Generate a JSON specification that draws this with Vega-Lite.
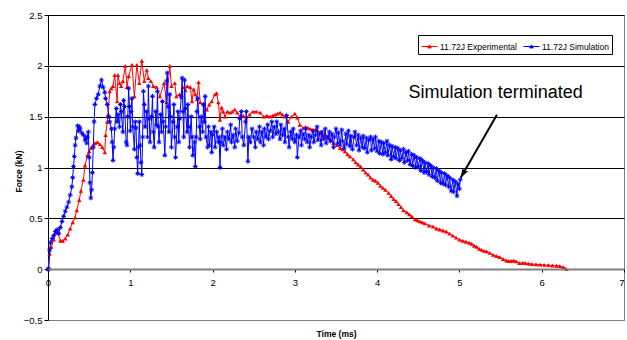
{
  "$schema": "https://vega.github.io/schema/vega-lite/v6.json",
  "width": 576,
  "height": 305,
  "autosize": "none",
  "padding": {"left": 48, "top": 15, "right": 3, "bottom": 20},
  "background": "white",
  "config": {
    "font": "Liberation Sans",
    "view": {"stroke": "#808080", "strokeWidth": 1},
    "axis": {"labelFont": "Liberation Sans", "labelColor": "#000000", "titleFont": "Liberation Sans", "titleColor": "#000000"}
  },
  "datasets": {
    "exp": [
      {"t":0,"f":0},{"t":0.02,"f":0.15},{"t":0.04,"f":0.22},{"t":0.07,"f":0.29},{"t":0.09,"f":0.36},{"t":0.12,"f":0.36},{"t":0.15,"f":0.28},{"t":0.18,"f":0.28},{"t":0.21,"f":0.30},{"t":0.24,"f":0.34},{"t":0.27,"f":0.40},{"t":0.30,"f":0.46},{"t":0.33,"f":0.51},{"t":0.35,"f":0.58},{"t":0.38,"f":0.68},{"t":0.40,"f":0.77},{"t":0.43,"f":0.88},{"t":0.45,"f":1.02},{"t":0.48,"f":1.12},{"t":0.50,"f":1.16},{"t":0.52,"f":1.19},{"t":0.55,"f":1.22},{"t":0.57,"f":1.24},{"t":0.60,"f":1.25},{"t":0.63,"f":1.23},{"t":0.66,"f":1.20},{"t":0.69,"f":1.15},{"t":0.70,"f":1.32},{"t":0.72,"f":1.45},{"t":0.73,"f":1.52},{"t":0.75,"f":1.75},{"t":0.77,"f":1.78},{"t":0.79,"f":1.80},{"t":0.81,"f":1.91},{"t":0.84,"f":1.65},{"t":0.85,"f":1.91},{"t":0.87,"f":1.83},{"t":0.89,"f":1.80},{"t":0.91,"f":1.85},{"t":0.94,"f":2.00},{"t":0.96,"f":1.79},{"t":0.98,"f":1.90},{"t":1.02,"f":2.01},{"t":1.05,"f":1.70},{"t":1.08,"f":2.01},{"t":1.11,"f":1.83},{"t":1.14,"f":2.05},{"t":1.17,"f":1.85},{"t":1.20,"f":1.96},{"t":1.22,"f":1.88},{"t":1.25,"f":1.85},{"t":1.28,"f":1.80},{"t":1.32,"f":1.79},{"t":1.36,"f":1.70},{"t":1.41,"f":1.83},{"t":1.44,"f":1.64},{"t":1.48,"f":2.00},{"t":1.50,"f":1.80},{"t":1.54,"f":1.83},{"t":1.56,"f":1.70},{"t":1.60,"f":1.72},{"t":1.62,"f":1.69},{"t":1.64,"f":1.79},{"t":1.67,"f":1.76},{"t":1.69,"f":1.80},{"t":1.73,"f":1.79},{"t":1.75,"f":1.65},{"t":1.77,"f":1.77},{"t":1.79,"f":1.72},{"t":1.81,"f":1.67},{"t":1.83,"f":1.84},{"t":1.85,"f":1.64},{"t":1.89,"f":1.62},{"t":1.93,"f":1.57},{"t":1.96,"f":1.62},{"t":1.99,"f":1.65},{"t":2.03,"f":1.72},{"t":2.05,"f":1.73},{"t":2.07,"f":1.64},{"t":2.09,"f":1.47},{"t":2.11,"f":1.59},{"t":2.13,"f":1.55},{"t":2.15,"f":1.50},{"t":2.18,"f":1.55},{"t":2.21,"f":1.54},{"t":2.24,"f":1.55},{"t":2.27,"f":1.57},{"t":2.30,"f":1.54},{"t":2.33,"f":1.50},{"t":2.37,"f":1.51},{"t":2.41,"f":1.49},{"t":2.45,"f":1.52},{"t":2.49,"f":1.55},{"t":2.53,"f":1.55},{"t":2.58,"f":1.54},{"t":2.62,"f":1.50},{"t":2.66,"f":1.51},{"t":2.70,"f":1.50},{"t":2.73,"f":1.51},{"t":2.76,"f":1.52},{"t":2.79,"f":1.53},{"t":2.82,"f":1.54},{"t":2.85,"f":1.52},{"t":2.88,"f":1.50},{"t":2.92,"f":1.45},{"t":2.96,"f":1.50},{"t":3.00,"f":1.53},{"t":3.03,"f":1.49},{"t":3.06,"f":1.42},{"t":3.10,"f":1.39},{"t":3.13,"f":1.40},{"t":3.16,"f":1.39},{"t":3.19,"f":1.38},{"t":3.22,"f":1.37},{"t":3.25,"f":1.37},{"t":3.28,"f":1.36},{"t":3.31,"f":1.34},{"t":3.34,"f":1.32},{"t":3.38,"f":1.31},{"t":3.41,"f":1.29},{"t":3.44,"f":1.27},{"t":3.47,"f":1.24},{"t":3.51,"f":1.22},{"t":3.55,"f":1.19},{"t":3.58,"f":1.18},{"t":3.61,"f":1.16},{"t":3.64,"f":1.13},{"t":3.67,"f":1.11},{"t":3.71,"f":1.08},{"t":3.74,"f":1.05},{"t":3.77,"f":1.03},{"t":3.80,"f":1.01},{"t":3.83,"f":0.98},{"t":3.86,"f":0.95},{"t":3.89,"f":0.93},{"t":3.92,"f":0.90},{"t":3.95,"f":0.88},{"t":3.98,"f":0.87},{"t":4.01,"f":0.85},{"t":4.04,"f":0.82},{"t":4.07,"f":0.80},{"t":4.10,"f":0.78},{"t":4.14,"f":0.75},{"t":4.17,"f":0.72},{"t":4.20,"f":0.69},{"t":4.23,"f":0.67},{"t":4.26,"f":0.64},{"t":4.29,"f":0.61},{"t":4.32,"f":0.58},{"t":4.36,"f":0.56},{"t":4.39,"f":0.54},{"t":4.42,"f":0.52},{"t":4.46,"f":0.49},{"t":4.49,"f":0.48},{"t":4.52,"f":0.47},{"t":4.55,"f":0.46},{"t":4.58,"f":0.45},{"t":4.63,"f":0.43},{"t":4.68,"f":0.42},{"t":4.72,"f":0.40},{"t":4.76,"f":0.39},{"t":4.80,"f":0.38},{"t":4.84,"f":0.37},{"t":4.88,"f":0.35},{"t":4.92,"f":0.33},{"t":4.96,"f":0.31},{"t":5.00,"f":0.29},{"t":5.04,"f":0.28},{"t":5.08,"f":0.27},{"t":5.12,"f":0.26},{"t":5.15,"f":0.25},{"t":5.18,"f":0.23},{"t":5.21,"f":0.22},{"t":5.24,"f":0.20},{"t":5.27,"f":0.19},{"t":5.30,"f":0.18},{"t":5.33,"f":0.175},{"t":5.37,"f":0.16},{"t":5.41,"f":0.14},{"t":5.45,"f":0.13},{"t":5.49,"f":0.12},{"t":5.53,"f":0.10},{"t":5.57,"f":0.085},{"t":5.60,"f":0.08},{"t":5.63,"f":0.08},{"t":5.66,"f":0.085},{"t":5.69,"f":0.077},{"t":5.73,"f":0.06},{"t":5.77,"f":0.062},{"t":5.80,"f":0.06},{"t":5.84,"f":0.055},{"t":5.88,"f":0.05},{"t":5.93,"f":0.048},{"t":5.98,"f":0.045},{"t":6.03,"f":0.042},{"t":6.08,"f":0.04},{"t":6.13,"f":0.036},{"t":6.18,"f":0.034},{"t":6.22,"f":0.03},{"t":6.26,"f":0.02},{"t":6.28,"f":0.01},{"t":6.30,"f":0.0}
    ],
    "sim": [
      {"t":0.00,"f":0.00},{"t":0.01,"f":0.00},{"t":0.02,"f":0.19},{"t":0.03,"f":0.26},{"t":0.05,"f":0.30},{"t":0.07,"f":0.33},{"t":0.09,"f":0.37},{"t":0.11,"f":0.39},{"t":0.13,"f":0.35},{"t":0.15,"f":0.41},{"t":0.17,"f":0.47},{"t":0.19,"f":0.52},{"t":0.21,"f":0.57},{"t":0.23,"f":0.61},{"t":0.25,"f":0.66},{"t":0.27,"f":0.73},{"t":0.29,"f":0.81},{"t":0.30,"f":0.90},{"t":0.31,"f":1.01},{"t":0.32,"f":1.11},{"t":0.33,"f":1.22},{"t":0.34,"f":1.29},{"t":0.36,"f":1.41},{"t":0.37,"f":1.36},{"t":0.38,"f":1.40},{"t":0.39,"f":1.38},{"t":0.41,"f":1.34},{"t":0.43,"f":1.32},{"t":0.45,"f":1.27},{"t":0.46,"f":1.30},{"t":0.47,"f":1.24},{"t":0.48,"f":1.30},{"t":0.49,"f":1.35},{"t":0.50,"f":1.10},{"t":0.51,"f":0.85},{"t":0.52,"f":0.70},{"t":0.53,"f":0.78},{"t":0.54,"f":0.95},{"t":0.55,"f":1.20},{"t":0.56,"f":1.45},{"t":0.57,"f":1.62},{"t":0.59,"f":1.68},{"t":0.61,"f":1.72},{"t":0.63,"f":1.80},{"t":0.65,"f":1.86},{"t":0.67,"f":1.79},{"t":0.69,"f":1.74},{"t":0.70,"f":1.68},{"t":0.72,"f":1.62},{"t":0.74,"f":1.50},{"t":0.75,"f":1.45},{"t":0.77,"f":1.38},{"t":0.78,"f":1.25},{"t":0.79,"f":1.07},{"t":0.80,"f":1.20},{"t":0.81,"f":1.38},{"t":0.83,"f":1.58},{"t":0.84,"f":1.45},{"t":0.85,"f":1.52},{"t":0.87,"f":1.40},{"t":0.88,"f":1.62},{"t":0.89,"f":1.55},{"t":0.91,"f":1.35},{"t":0.92,"f":1.66},{"t":0.93,"f":1.60},{"t":0.95,"f":1.25},{"t":0.96,"f":1.22},{"t":0.97,"f":1.50},{"t":0.98,"f":1.78},{"t":0.99,"f":1.60},{"t":1.00,"f":1.36},{"t":1.01,"f":1.55},{"t":1.02,"f":1.68},{"t":1.03,"f":1.40},{"t":1.05,"f":1.18},{"t":1.06,"f":1.45},{"t":1.07,"f":1.39},{"t":1.08,"f":1.10},{"t":1.09,"f":0.94},{"t":1.10,"f":1.20},{"t":1.11,"f":1.45},{"t":1.12,"f":1.22},{"t":1.13,"f":1.05},{"t":1.14,"f":0.93},{"t":1.15,"f":1.30},{"t":1.16,"f":1.75},{"t":1.17,"f":1.62},{"t":1.18,"f":1.40},{"t":1.20,"f":1.55},{"t":1.21,"f":1.30},{"t":1.22,"f":1.80},{"t":1.23,"f":1.48},{"t":1.24,"f":1.25},{"t":1.26,"f":1.50},{"t":1.27,"f":1.70},{"t":1.28,"f":1.35},{"t":1.29,"f":1.20},{"t":1.31,"f":1.55},{"t":1.32,"f":1.42},{"t":1.33,"f":1.75},{"t":1.34,"f":1.40},{"t":1.35,"f":1.25},{"t":1.37,"f":1.52},{"t":1.38,"f":1.35},{"t":1.39,"f":1.65},{"t":1.40,"f":1.45},{"t":1.42,"f":1.12},{"t":1.43,"f":1.40},{"t":1.44,"f":1.85},{"t":1.45,"f":1.93},{"t":1.46,"f":1.60},{"t":1.47,"f":1.35},{"t":1.48,"f":1.72},{"t":1.49,"f":1.50},{"t":1.50,"f":1.20},{"t":1.52,"f":1.45},{"t":1.53,"f":1.62},{"t":1.54,"f":1.30},{"t":1.55,"f":1.10},{"t":1.57,"f":1.40},{"t":1.58,"f":1.55},{"t":1.59,"f":1.25},{"t":1.60,"f":1.48},{"t":1.62,"f":1.70},{"t":1.63,"f":1.88},{"t":1.64,"f":1.55},{"t":1.65,"f":1.30},{"t":1.66,"f":1.86},{"t":1.67,"f":1.58},{"t":1.69,"f":1.35},{"t":1.70,"f":1.62},{"t":1.71,"f":1.40},{"t":1.72,"f":1.20},{"t":1.74,"f":1.50},{"t":1.75,"f":1.30},{"t":1.76,"f":1.12},{"t":1.78,"f":1.25},{"t":1.79,"f":1.01},{"t":1.80,"f":1.30},{"t":1.81,"f":1.55},{"t":1.82,"f":1.68},{"t":1.84,"f":1.40},{"t":1.85,"f":1.28},{"t":1.86,"f":1.50},{"t":1.88,"f":1.35},{"t":1.89,"f":1.62},{"t":1.90,"f":1.45},{"t":1.91,"f":1.70},{"t":1.92,"f":1.30},{"t":1.94,"f":1.20},{"t":1.95,"f":1.40},{"t":1.96,"f":1.22},{"t":1.98,"f":1.35},{"t":1.99,"f":1.15},{"t":2.00,"f":1.32},{"t":2.02,"f":1.40},{"t":2.03,"f":1.20},{"t":2.05,"f":1.35},{"t":2.07,"f":1.25},{"t":2.08,"f":1.30},{"t":2.09,"f":1.00},{"t":2.10,"f":1.25},{"t":2.12,"f":1.38},{"t":2.13,"f":1.22},{"t":2.15,"f":1.30},{"t":2.17,"f":1.18},{"t":2.18,"f":1.35},{"t":2.20,"f":1.28},{"t":2.22,"f":1.42},{"t":2.23,"f":1.25},{"t":2.25,"f":1.32},{"t":2.27,"f":1.20},{"t":2.28,"f":1.38},{"t":2.30,"f":1.26},{"t":2.32,"f":1.34},{"t":2.33,"f":1.48},{"t":2.35,"f":1.55},{"t":2.36,"f":1.30},{"t":2.38,"f":1.22},{"t":2.40,"f":1.45},{"t":2.41,"f":1.55},{"t":2.43,"f":1.06},{"t":2.44,"f":1.30},{"t":2.46,"f":1.25},{"t":2.48,"f":1.38},{"t":2.50,"f":1.30},{"t":2.52,"f":1.20},{"t":2.53,"f":1.35},{"t":2.55,"f":1.28},{"t":2.57,"f":1.40},{"t":2.58,"f":1.25},{"t":2.60,"f":1.35},{"t":2.62,"f":1.22},{"t":2.63,"f":1.38},{"t":2.65,"f":1.30},{"t":2.67,"f":1.42},{"t":2.68,"f":1.28},{"t":2.70,"f":1.36},{"t":2.72,"f":1.45},{"t":2.73,"f":1.30},{"t":2.75,"f":1.40},{"t":2.77,"f":1.33},{"t":2.78,"f":1.45},{"t":2.80,"f":1.35},{"t":2.82,"f":1.28},{"t":2.83,"f":1.42},{"t":2.85,"f":1.32},{"t":2.87,"f":1.38},{"t":2.88,"f":1.25},{"t":2.90,"f":1.51},{"t":2.92,"f":1.30},{"t":2.93,"f":1.20},{"t":2.95,"f":1.35},{"t":2.97,"f":1.28},{"t":2.98,"f":1.38},{"t":3.00,"f":1.25},{"t":3.02,"f":1.32},{"t":3.03,"f":1.10},{"t":3.05,"f":1.30},{"t":3.07,"f":1.36},{"t":3.08,"f":1.22},{"t":3.10,"f":1.33},{"t":3.12,"f":1.28},{"t":3.13,"f":1.38},{"t":3.15,"f":1.25},{"t":3.17,"f":1.32},{"t":3.18,"f":1.20},{"t":3.20,"f":1.30},{"t":3.22,"f":1.36},{"t":3.23,"f":1.25},{"t":3.25,"f":1.32},{"t":3.27,"f":1.40},{"t":3.28,"f":1.27},{"t":3.30,"f":1.33},{"t":3.32,"f":1.22},{"t":3.33,"f":1.35},{"t":3.35,"f":1.28},{"t":3.37,"f":1.38},{"t":3.38,"f":1.24},{"t":3.40,"f":1.30},{"t":3.42,"f":1.35},{"t":3.43,"f":1.26},{"t":3.45,"f":1.33},{"t":3.47,"f":1.20},{"t":3.48,"f":1.30},{"t":3.50,"f":1.38},{"t":3.52,"f":1.24},{"t":3.53,"f":1.34},{"t":3.55,"f":1.22},{"t":3.57,"f":1.37},{"t":3.58,"f":1.26},{"t":3.60,"f":1.19},{"t":3.62,"f":1.33},{"t":3.63,"f":1.23},{"t":3.65,"f":1.36},{"t":3.67,"f":1.21},{"t":3.68,"f":1.31},{"t":3.70,"f":1.18},{"t":3.72,"f":1.30},{"t":3.73,"f":1.35},{"t":3.75,"f":1.22},{"t":3.77,"f":1.32},{"t":3.78,"f":1.17},{"t":3.80,"f":1.29},{"t":3.82,"f":1.20},{"t":3.83,"f":1.31},{"t":3.85,"f":1.19},{"t":3.87,"f":1.29},{"t":3.88,"f":1.15},{"t":3.90,"f":1.27},{"t":3.92,"f":1.30},{"t":3.93,"f":1.17},{"t":3.95,"f":1.28},{"t":3.97,"f":1.19},{"t":3.98,"f":1.30},{"t":4.00,"f":1.16},{"t":4.02,"f":1.26},{"t":4.03,"f":1.14},{"t":4.05,"f":1.25},{"t":4.07,"f":1.13},{"t":4.08,"f":1.24},{"t":4.10,"f":1.15},{"t":4.12,"f":1.26},{"t":4.13,"f":1.12},{"t":4.15,"f":1.22},{"t":4.17,"f":1.08},{"t":4.18,"f":1.21},{"t":4.20,"f":1.11},{"t":4.22,"f":1.20},{"t":4.23,"f":1.09},{"t":4.25,"f":1.19},{"t":4.27,"f":1.07},{"t":4.28,"f":1.17},{"t":4.30,"f":1.09},{"t":4.32,"f":1.18},{"t":4.33,"f":1.05},{"t":4.35,"f":1.15},{"t":4.37,"f":1.07},{"t":4.38,"f":1.16},{"t":4.40,"f":1.03},{"t":4.42,"f":1.13},{"t":4.43,"f":1.02},{"t":4.45,"f":1.12},{"t":4.47,"f":1.00},{"t":4.48,"f":1.10},{"t":4.50,"f":1.01},{"t":4.52,"f":1.09},{"t":4.53,"f":0.97},{"t":4.55,"f":1.07},{"t":4.57,"f":0.95},{"t":4.58,"f":1.05},{"t":4.60,"f":0.96},{"t":4.62,"f":1.04},{"t":4.63,"f":0.93},{"t":4.65,"f":1.02},{"t":4.67,"f":0.91},{"t":4.68,"f":1.00},{"t":4.70,"f":0.90},{"t":4.72,"f":0.99},{"t":4.73,"f":0.87},{"t":4.75,"f":0.97},{"t":4.77,"f":0.85},{"t":4.78,"f":0.95},{"t":4.80,"f":0.84},{"t":4.82,"f":0.94},{"t":4.83,"f":0.83},{"t":4.85,"f":0.92},{"t":4.87,"f":0.81},{"t":4.88,"f":0.90},{"t":4.90,"f":0.77},{"t":4.92,"f":0.88},{"t":4.93,"f":0.76},{"t":4.95,"f":0.86},{"t":4.97,"f":0.72},{"t":4.98,"f":0.84},{"t":5.00,"f":0.79},{"t":5.01,"f":0.88}
    ],
    "note": [{"t": 5.44, "f": 1.68, "label": "Simulation terminated"}],
    "arrow": [{"t": 5.456, "f": 1.52, "t2": 5.015, "f2": 0.90}]
  },
  "layer": [
    {
      "data": {"name": "exp"},
      "mark": {"type": "line", "strokeWidth": 1},
      "encoding": {
        "x": {"field": "t", "type": "quantitative", "scale": {"domain": [0, 7], "nice": false, "zero": false},
          "axis": {"title": "Time (ms)", "values": [0,1,2,3,4,5,6,7], "format": "d", "grid": false, "offset": -51, "domainColor": "#808080", "domainWidth": 2, "tickColor": "#000000", "tickSize": 3, "labelFontSize": 9.5, "labelPadding": 5, "labelFlush": false, "labelOverlap": false, "labelAlign": {"condition": {"test": "datum.value === 7", "value": "right"}, "value": "center"}, "titleFontSize": 8.5, "titleFontWeight": "bold", "titleY": 64, "titleBaseline": "middle", "zindex": 1}},
        "y": {"field": "f", "type": "quantitative", "scale": {"domain": [-0.5, 2.5], "nice": false, "zero": false},
          "axis": {"title": "Force (kN)", "values": [-0.5,0,0.5,1,1.5,2,2.5], "format": "~g", "grid": true, "gridColor": {"condition": {"test": "datum.value === -0.5", "value": "#808080"}, "value": "#000000"}, "gridWidth": 1, "domainColor": "#000000", "tickColor": "#000000", "tickSize": 4, "labelFontSize": 9.5, "labelPadding": 2, "titleFontSize": 8.5, "titleFontWeight": "bold", "titleAngle": -90, "titleX": -30, "titleY": 156, "titleBaseline": "middle", "titleAlign": "center", "zindex": 0}},
        "color": {"datum": "11.72J Experimental", "type": "nominal",
          "scale": {"domain": ["11.72J Experimental", "11.72J Simulation"], "range": ["#FF0000", "#0000FF"]},
          "legend": {"title": null, "orient": "none", "legendX": 370, "legendY": 20, "direction": "horizontal", "strokeColor": "#000000", "fillColor": "#FFFFFF", "padding": 3, "labelFontSize": 8.5, "labelFont": "Liberation Sans", "labelColor": "#000000", "symbolType": "M-1,0L1,0M-0.22,0.18L0,-0.2L0.22,0.18Z", "symbolSize": 256, "symbolStrokeWidth": 1, "columnPadding": 4, "labelOffset": 2, "labelLimit": 200}}
      }
    },
    {
      "data": {"name": "exp"},
      "mark": {"type": "point", "shape": "triangle-up", "filled": true, "size": 20, "opacity": 1},
      "encoding": {
        "x": {"field": "t", "type": "quantitative"},
        "y": {"field": "f", "type": "quantitative"},
        "color": {"datum": "11.72J Experimental", "type": "nominal"}
      }
    },
    {
      "data": {"name": "sim"},
      "mark": {"type": "line", "strokeWidth": 1},
      "encoding": {
        "x": {"field": "t", "type": "quantitative"},
        "y": {"field": "f", "type": "quantitative"},
        "color": {"datum": "11.72J Simulation", "type": "nominal"}
      }
    },
    {
      "data": {"name": "sim"},
      "mark": {"type": "point", "shape": "M-1,0L1,0M0,-1L0,1M-0.7,-0.7L0.7,0.7M-0.7,0.7L0.7,-0.7", "filled": false, "size": 22, "strokeWidth": 1, "opacity": 1},
      "encoding": {
        "x": {"field": "t", "type": "quantitative"},
        "y": {"field": "f", "type": "quantitative"},
        "color": {"datum": "11.72J Simulation", "type": "nominal"}
      }
    },
    {
      "data": {"name": "note"},
      "mark": {"type": "text", "fontSize": 18, "font": "Liberation Sans", "align": "center", "baseline": "alphabetic", "color": "#000000"},
      "encoding": {
        "x": {"field": "t", "type": "quantitative"},
        "y": {"field": "f", "type": "quantitative"},
        "text": {"field": "label"}
      }
    },
    {
      "data": {"name": "arrow"},
      "mark": {"type": "rule", "strokeWidth": 2, "color": "#000000"},
      "encoding": {
        "x": {"field": "t", "type": "quantitative"},
        "y": {"field": "f", "type": "quantitative"},
        "x2": {"field": "t2"},
        "y2": {"field": "f2"}
      }
    },
    {
      "data": {"name": "arrow"},
      "mark": {"type": "point", "shape": "M0,0L1.1,3.2L0,2.5L-1.1,3.2Z", "filled": true, "size": 36, "angle": 210, "color": "#000000", "opacity": 1},
      "encoding": {
        "x": {"field": "t2", "type": "quantitative"},
        "y": {"field": "f2", "type": "quantitative"}
      }
    }
  ]
}
